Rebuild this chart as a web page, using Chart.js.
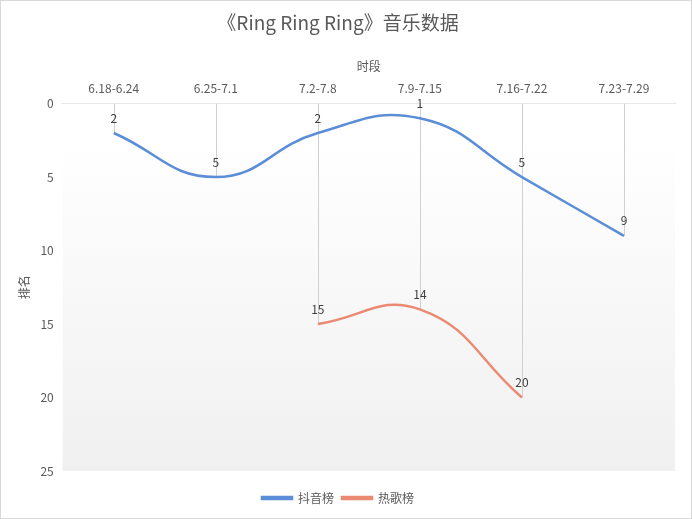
<!DOCTYPE html>
<html>
<head>
<meta charset="utf-8">
<script src="https://cdn.jsdelivr.net/npm/chart.js@4"></script>
<style>
  html, body { margin: 0; padding: 0; background: #fff; }
  #wrap { width: 690px; height: 517px; border: 1px solid #d9d9d9; }
</style>
</head>
<body>
<div id="wrap"><canvas id="myChart" width="690" height="517"></canvas></div>
<script>
const periods = ['6.18-6.24', '6.25-7.1', '7.2-7.8', '7.9-7.15', '7.16-7.22', '7.23-7.29'];
const douyin = [2, 5, 2, 1, 5, 9];
const rege = [null, null, 15, 14, 20, null];
const yTicks = [0, 5, 10, 15, 20, 25];

const FONT = '"Noto Sans CJK SC", "Noto Sans", sans-serif';

// gradient plot background + drop lines from axis to points
const backdrop = {
    id: 'backdrop',
    beforeDatasetsDraw(chart) {
        const { ctx, chartArea: a, scales } = chart;
        ctx.save();
        const g = ctx.createLinearGradient(0, a.top, 0, a.bottom);
        g.addColorStop(0, '#ffffff');
        g.addColorStop(0.1, '#ffffff');
        g.addColorStop(1, '#f0f0f0');
        ctx.fillStyle = g;
        ctx.fillRect(a.left, a.top, a.right - a.left, a.bottom - a.top);
        ctx.strokeStyle = '#d0d0d0';
        ctx.lineWidth = 1;
        periods.forEach((p, i) => {
            const vals = [douyin[i], rege[i]].filter(v => v !== null);
            if (!vals.length) return;
            const x = Math.round(scales.x.getPixelForValue(i)) + 0.5;
            ctx.beginPath();
            ctx.moveTo(x, scales.y.getPixelForValue(0));
            ctx.lineTo(x, scales.y.getPixelForValue(Math.max(...vals)));
            ctx.stroke();
        });
        ctx.restore();
    },
    afterDatasetsDraw(chart) {
        const { ctx } = chart;
        ctx.save();
        ctx.font = '12px ' + FONT;
        ctx.fillStyle = '#404040';
        ctx.textAlign = 'center';
        ctx.textBaseline = 'middle';
        chart.data.datasets.forEach((ds, di) => {
            chart.getDatasetMeta(di).data.forEach((pt, i) => {
                if (ds.data[i] === null) return;
                ctx.fillText(String(ds.data[i]), pt.x, pt.y - 15);
            });
        });
        ctx.restore();
    }
};

const ctx = document.getElementById('myChart').getContext('2d');
const myChart = new Chart(ctx, {
    type: 'line',
    data: {
        labels: periods,
        datasets: [{
            label: '抖音榜',
            data: douyin,
            borderColor: '#5b8ed6',
            backgroundColor: '#5b8ed6',
            borderWidth: 2.5,
            pointRadius: 0,
            tension: 0.45
        }, {
            label: '热歌榜',
            data: rege,
            borderColor: '#eb8a73',
            backgroundColor: '#eb8a73',
            borderWidth: 2.5,
            pointRadius: 0,
            tension: 0.45
        }]
    },
    options: {
        responsive: false,
        animation: false,
        layout: { padding: { left: 0, right: 16, top: 0, bottom: 4 } },
        plugins: {
            title: {
                display: true,
                text: '《Ring Ring Ring》音乐数据',
                color: '#595959',
                font: { family: FONT, size: 19, weight: 'normal' },
                padding: { top: 10, bottom: 25 }
            },
            legend: {
                position: 'bottom',
                labels: {
                    color: '#595959',
                    font: { family: FONT, size: 12 },
                    boxWidth: 30,
                    boxHeight: 2,
                    padding: 8
                }
            },
            tooltip: { enabled: false }
        },
        scales: {
            x: {
                position: 'top',
                offset: true,
                grid: { display: false, drawTicks: false },
                border: { color: '#d9d9d9' },
                ticks: { color: '#595959', font: { family: FONT, size: 12 }, padding: 8, maxRotation: 0 },
                title: { display: true, text: '时段', color: '#595959', font: { family: FONT, size: 12 }, padding: { top: 0, bottom: 0 } }
            },
            // empty spacer between plot and legend
            gap: {
                type: 'category',
                position: 'bottom',
                grid: { display: false, drawTicks: false },
                border: { display: false },
                ticks: { display: false },
                afterFit(s) { s.height = 13; }
            },
            y: {
                reverse: true,
                min: 0,
                max: 25,
                afterBuildTicks(axis) { axis.ticks = yTicks.map(v => ({ value: v })); },
                grid: { display: false, drawTicks: false },
                border: { display: false },
                ticks: { color: '#595959', font: { family: FONT, size: 12 }, padding: 9 },
                title: { display: true, text: '排名', color: '#595959', font: { family: FONT, size: 12 }, padding: { top: 16, bottom: 0 } }
            }
        }
    },
    plugins: [backdrop]
});
</script>
</body>
</html>
